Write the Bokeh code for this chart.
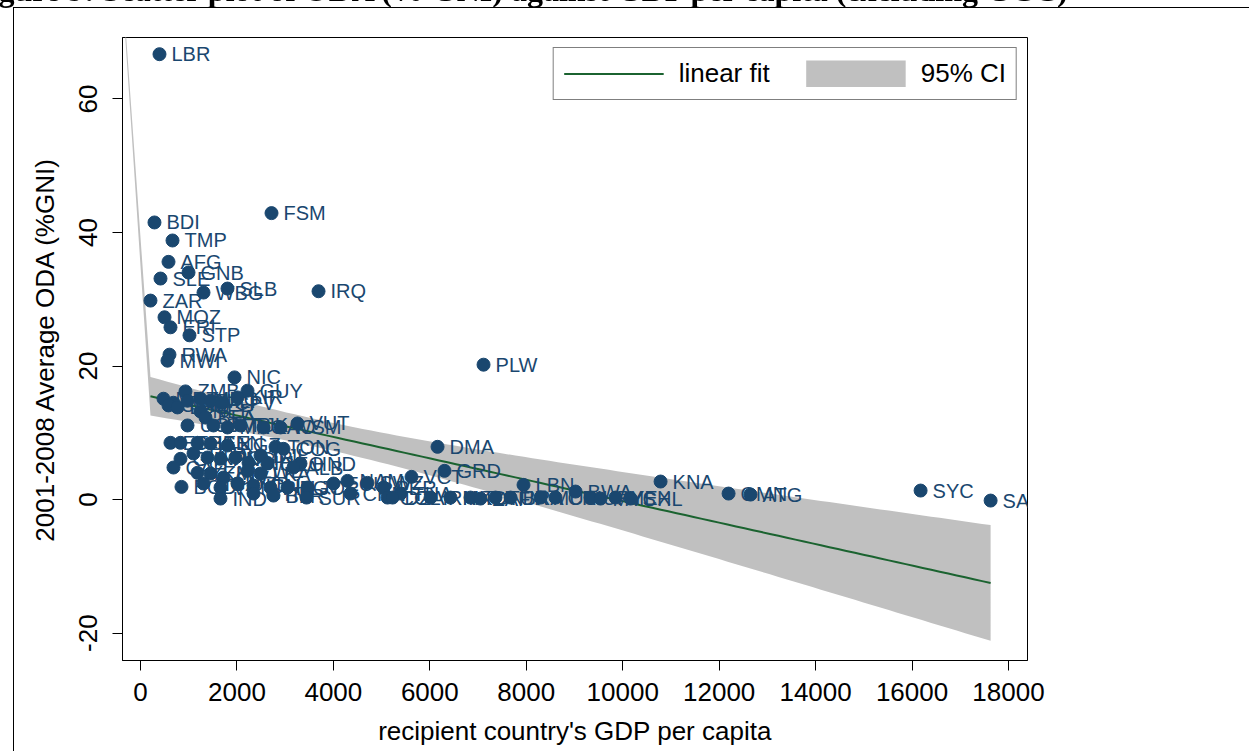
import numpy as np
from bokeh.plotting import figure
from bokeh.layouts import column
from bokeh.models import (Range1d, FixedTicker, Legend, LegendItem,
                          ColumnDataSource, Div)
from bokeh.core.properties import value
from bokeh.embed import file_html
from bokeh.resources import INLINE

# ---------------- data ----------------
iso = ["LBR", "BDI", "FSM", "TMP", "AFG", "GNB", "SLE", "ZAR", "WBG", "SLB",
       "IRQ", "MOZ", "ERI", "STP", "RWA", "MWI", "PLW", "NIC", "ZMB", "GUY",
       "MRT", "TZA", "HTI", "MDG", "MLI", "CPV", "KIR", "COM", "LSO", "NER",
       "BFA", "UGA", "GMB", "MNG", "TJK", "LAO", "WSM", "VUT", "ETH", "GHA",
       "BEN", "SEN", "KGZ", "TON", "COG", "GIN", "TCD", "NPL", "PNG", "CMR",
       "BIH", "DJI", "GEO", "HND", "ALB", "CAF", "YEM", "KHM", "CIV", "ZWE",
       "LKA", "BGD", "NGA", "VNM", "UZB", "IDN", "PHL", "EGY", "JOR", "IND",
       "GTM", "BLR", "SUR", "ECU", "NAM", "SWZ", "PER", "COL", "THA", "CHN",
       "VCT", "DMA", "GRD", "DZA", "IRN", "MKD", "TUN", "ZAF", "TUR", "BRA",
       "LBN", "MUS", "CRI", "BWA", "URY", "MYS", "MEX", "CHL", "KNA", "OMN",
       "ATG", "SYC", "SAU"]
gdp = [394, 290, 2717, 664, 581, 996, 415, 207, 1307, 1804,
       3692, 498, 622, 1016, 601, 560, 7114, 1950, 933, 2219,
       477, 684, 975, 1244, 1452, 1701, 2012, 581, 767, 1244,
       1348, 975, 1514, 1804, 2074, 2551, 2904, 3256, 622, 830,
       1182, 1452, 1804, 2800, 2966, 830, 1099, 1390, 1659, 1970,
       2240, 2489, 2634, 3318, 3173, 684, 1182, 1452, 1721, 2219,
       2489, 850, 1307, 1659, 2012, 2344, 2696, 3049, 3464, 1659,
       2344, 2758, 3443, 4003, 4293, 4708, 5040, 5123, 5392, 4355,
       5620, 6160, 6305, 5227, 6015, 6429, 6844, 7051, 7363, 7674,
       7943, 8296, 8607, 9022, 9333, 9540, 9851, 10163, 10785, 12195,
       12651, 16177, 17629]
oda = [66.7, 41.5, 42.9, 38.8, 35.6, 34.0, 33.1, 29.8, 31.0, 31.6,
       31.2, 27.3, 25.8, 24.6, 21.7, 20.8, 20.2, 18.3, 16.2, 16.3,
       15.1, 14.5, 14.8, 15.1, 14.8, 14.5, 15.3, 14.1, 13.8, 13.2,
       12.3, 11.1, 11.1, 10.8, 11.1, 10.8, 10.8, 11.4, 8.5, 8.5,
       8.5, 8.4, 8.1, 7.9, 7.6, 6.1, 6.9, 6.3, 6.1, 6.3,
       5.5, 6.6, 5.4, 5.4, 4.8, 4.8, 4.0, 3.9, 3.3, 4.3,
       3.9, 1.9, 2.4, 1.8, 2.4, 2.1, 1.8, 1.8, 1.8, 0.15,
       0.9, 0.6, 0.3, 2.4, 2.8, 2.5, 1.8, 0.3, 0.9, 0.9,
       3.4, 7.9, 4.3, 0.3, 0.3, 0.3, 0.3, 0.15, 0.3, 0.3,
       2.2, 0.3, 0.3, 1.2, 0.3, 0.15, 0.3, 0.15, 2.7, 0.9,
       0.75, 1.35, -0.15]

x_ticks = [0, 2000, 4000, 6000, 8000, 10000, 12000, 14000, 16000, 18000]
y_ticks = [-20, 0, 20, 40, 60]
y_tick_labels = ["-20", "0", "20", "40", "60"]

# apex of the thin sliver that the CI band shows at the left edge
ci_artifact_x = -600
ci_artifact_y = 100
t_975 = 1.98

title_text = "Figure 9: Scatter plot of ODA (% GNI) against GDP per capita (excluding GCC)"

# ---------------- linear fit with 95% CI ----------------
x = np.array(gdp, dtype=float)
y = np.array(oda, dtype=float)
n = len(x)
b1, b0 = np.polyfit(x, y, 1)
resid = y - (b0 + b1 * x)
s = np.sqrt(np.sum(resid ** 2) / (n - 2))
xbar = x.mean()
sxx = np.sum((x - xbar) ** 2)
xg = np.linspace(x.min(), x.max(), 100)
fit = b0 + b1 * xg
hw = t_975 * s * np.sqrt(1.0 / n + (xg - xbar) ** 2 / sxx)
upper = fit + hw
lower = fit - hw
band_x = [ci_artifact_x] + list(xg) + list(xg[::-1])
band_y = [ci_artifact_y] + list(upper) + list(lower[::-1])

# ---------------- figure ----------------
NAVY = "#1a476f"
GREEN = "#1b6330"
GRAY = "#c0c0c0"
FONT = "Liberation Sans"

p = figure(width=1249, height=751, output_backend="svg", toolbar_location=None,
           x_range=Range1d(-373, 18394), y_range=Range1d(-24.1, 69.2),
           min_border_left=122, min_border_right=222, min_border_top=37,
           min_border_bottom=91, margin=0)
p.background_fill_color = "white"
p.border_fill_color = "white"
p.outline_line_color = "black"
p.outline_line_width = 1
p.grid.visible = False

band = p.patch(band_x, band_y, fill_color=GRAY, line_color=None)
fit_r = p.line(xg, fit, line_color=GREEN, line_width=2)
# legend swatch for the band: a thick grey stroke with no drawable data
ci_swatch = p.line([np.nan], [np.nan], line_color=GRAY, line_width=27,
                   line_cap="butt")

src = ColumnDataSource(dict(gdp=gdp, oda=oda, iso=iso))
p.scatter("gdp", "oda", source=src, size=13, fill_color=NAVY, line_color=NAVY)
p.text("gdp", "oda", text="iso", source=src, x_offset=12, text_align="left",
       text_baseline="middle", text_font=value(FONT), text_font_size="20px",
       text_color=NAVY)

for ax in (p.xaxis[0], p.yaxis[0]):
    ax.axis_line_color = "black"
    ax.major_tick_line_color = "black"
    ax.minor_tick_line_color = None
    ax.major_tick_out = 10
    ax.major_tick_in = 0
    ax.major_label_text_font = FONT
    ax.major_label_text_font_size = "26px"
    ax.major_label_text_color = "black"
    ax.axis_label_text_font = FONT
    ax.axis_label_text_font_size = "26px"
    ax.axis_label_text_font_style = "normal"
    ax.axis_label_text_color = "black"

p.xaxis.ticker = FixedTicker(ticks=x_ticks)
p.yaxis.ticker = FixedTicker(ticks=y_ticks)
p.yaxis.major_label_overrides = {t: l for t, l in zip(y_ticks, y_tick_labels)}
p.xaxis.axis_label = "recipient country's GDP per capita"
p.yaxis.axis_label = "2001-2008 Average ODA (%GNI)"
p.yaxis.major_label_orientation = "vertical"
p.xaxis.major_label_standoff = 12
p.xaxis.axis_label_standoff = 12
p.yaxis.major_label_standoff = 15
p.yaxis.axis_label_standoff = 17

legend = Legend(items=[LegendItem(label="linear fit", renderers=[fit_r]),
                       LegendItem(label="95% CI", renderers=[ci_swatch])],
                orientation="horizontal", location="top_right",
                glyph_width=100, glyph_height=27, label_standoff=15,
                spacing=36, padding=10, margin=10,
                label_text_font=FONT, label_text_font_size="26px",
                label_text_color="black",
                border_line_color="black", border_line_width=1,
                background_fill_color="white", background_fill_alpha=1)
p.add_layout(legend, "center")

# outer graph box and the (cut-off) figure caption above it
deco = Div(text=(
    '<div style="position:fixed;left:13px;top:7px;right:0;bottom:0;'
    'border-left:1px solid #000;border-top:1px solid #000;'
    'pointer-events:none;z-index:5"></div>'
    '<div style="position:fixed;left:-30px;top:-26px;white-space:nowrap;'
    "font-family:'Liberation Serif';font-weight:bold;font-size:32px;"
    'line-height:32px;color:#000;z-index:6">' + title_text + '</div>'),
    width=0, height=0, margin=0)

layout = column(deco, p, spacing=0, margin=0)
open("out.html", "w").write(file_html(layout, INLINE))
